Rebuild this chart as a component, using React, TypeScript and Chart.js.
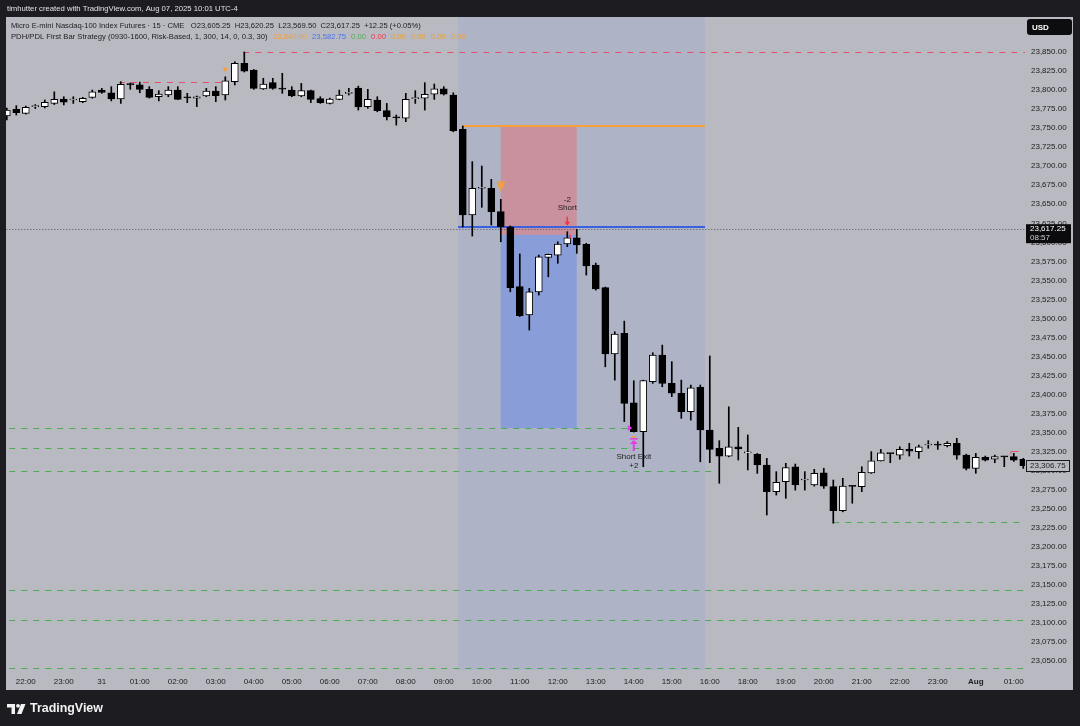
import React, { useEffect, useRef } from "react";
import { Chart, registerables } from "chart.js";

Chart.register(...registerables);

const FONT = "'Liberation Sans', Arial, Helvetica, sans-serif";

// ---------------- data ----------------
const times = [
  "21:30","21:45","22:00","22:15","22:30","22:45","23:00","23:15","23:30","23:45",
  "00:00","00:15","00:30","00:45","01:00","01:15","01:30","01:45","02:00","02:15",
  "02:30","02:45","03:00","03:15","03:30","03:45","04:00","04:15","04:30","04:45",
  "05:00","05:15","05:30","05:45","06:00","06:15","06:30","06:45","07:00","07:15",
  "07:30","07:45","08:00","08:15","08:30","08:45","09:00","09:15","09:30","09:45",
  "10:00","10:15","10:30","10:45","11:00","11:15","11:30","11:45","12:00","12:15",
  "12:30","12:45","13:00","13:15","13:30","13:45","14:00","14:15","14:30","14:45",
  "15:00","15:15","15:30","15:45","16:00","16:15","16:30","16:45","18:00","18:15",
  "18:30","18:45","19:00","19:15","19:30","19:45","20:00","20:15","20:30","20:45",
  "21:00","21:15","21:30","21:45","22:00","22:15","22:30","22:45","23:00","23:15",
  "23:30","23:45","00:00","00:15","00:30","00:45","01:00","01:15"
];

const opens = [
  23766,23774.75,23769.5,23778.25,23778.25,23782.5,23788.25,23787,23784.75,23790.5,
  23800,23796.5,23788.25,23808,23806.75,23801,23791.25,23793.5,23800,23790,
  23789.25,23792.25,23798.75,23793.5,23811,23835.25,23826.25,23801.5,23809.75,23801.5,
  23800,23792.25,23799.25,23788.75,23782.5,23787.75,23795.75,23802.75,23778.25,23787,
  23773,23763.75,23763,23788.75,23789.25,23794.75,23801.5,23793.5,23748.5,23636,
  23671,23671,23640.25,23620.5,23541.75,23504.5,23535,23580.25,23583.25,23597.75,
  23606,23597.5,23570.25,23540.5,23453.25,23480.5,23389.25,23351.25,23417,23452,
  23414.75,23401.75,23377.5,23409.5,23353.5,23329.5,23319.25,23331.5,23323.5,23321.5,
  23307.5,23272.5,23285.5,23305.25,23287.75,23281.25,23297.25,23279,23247.5,23279.75,
  23279,23297.25,23313,23322.75,23320.5,23328,23325,23333.75,23333.75,23332.75,
  23336,23320.5,23303,23317.5,23315,23318.5,23318.5,23315
];

const highs = [
  23776.5,23779.5,23779,23781,23787,23797.75,23791.25,23791.25,23790.5,23800,
  23802.25,23804.5,23811,23809.25,23810.5,23804.5,23799.25,23804.5,23804.5,23795.75,
  23792.25,23802.25,23804.5,23817.5,23837.25,23850,23827,23815.5,23815.5,23822,
  23804.5,23808.75,23800,23791.25,23789.5,23800,23802.25,23805.25,23801,23791.25,
  23782.5,23767.25,23795.75,23799.25,23809.75,23808,23804.5,23796.5,23752.75,23706,
  23700.25,23682.75,23656.5,23621.5,23584.75,23539.5,23583.25,23584.5,23600.75,23614,
  23617,23598.75,23572.75,23541.25,23482.5,23496.5,23418.25,23419,23455,23465,
  23443.25,23419,23412.5,23412.5,23450.75,23339.5,23384,23357,23347,23322.75,
  23316.25,23298.75,23309.75,23308.75,23298.75,23301.75,23303.25,23287.75,23290,23280.5,
  23305.25,23325,23328,23323,23331.5,23336,23333.75,23339.5,23338.25,23338.25,
  23342.5,23321.75,23322.75,23319.25,23320.5,23318.75,23322.75,23316.25
];

const lows = [
  23760.75,23767.25,23768.5,23775.75,23776.5,23781,23780.5,23782.5,23783.5,23789.25,
  23795.75,23785.75,23782.5,23801,23796.5,23789.5,23785.75,23791.25,23787.5,23783.5,
  23778.25,23791.25,23784.75,23787,23806.75,23823.75,23801,23800.75,23801,23795.75,
  23791.25,23791.25,23783.5,23782.5,23781.75,23787.25,23793.5,23773.75,23776,23771.5,
  23760.75,23754,23758.5,23782.5,23773.75,23787.75,23793.5,23745.25,23620.25,23608.25,
  23646,23622.75,23600.75,23535,23502.5,23484.75,23530.75,23554.75,23572.5,23594.25,
  23585.5,23557,23537.25,23436.5,23419,23364.5,23350.75,23305.25,23414.75,23410.25,
  23397.25,23368.75,23366.5,23311.75,23310.5,23283.5,23318.25,23314,23301,23296.5,
  23241.75,23268,23263.75,23274.5,23274.5,23279.75,23276.75,23231,23246,23257.25,
  23272.5,23296.5,23312.75,23310.5,23315,23319.25,23316.25,23329.5,23328,23331.25,
  23315,23301,23296.5,23312.75,23310.5,23305.25,23312.25,23303
];

const closes = [
  23773.75,23770.25,23777.25,23778.5,23784,23787.75,23784.25,23787.25,23789.25,23797.75,
  23797,23788.25,23807.5,23807.25,23801,23790.5,23794.75,23800,23787.75,23789.75,
  23791.25,23798.75,23792.5,23812,23835.25,23825,23802.25,23808,23802.25,23801.25,
  23792.25,23799.25,23787.75,23783.5,23788.25,23793.5,23796,23777.75,23787.75,23773,
  23765,23763.5,23787.75,23789,23794.5,23801.5,23794.5,23746.5,23636,23671,
  23671.25,23640.25,23620.5,23540.5,23503.5,23535,23581,23584.25,23597.75,23606,
  23596.5,23569,23538.75,23453.25,23479.5,23388.5,23351.25,23418.25,23452,23414.75,
  23401.75,23377.5,23409,23353.5,23328,23319.25,23331.5,23328.5,23323.75,23307.5,
  23272.5,23284.75,23304,23281.25,23288,23296.5,23279.75,23247.5,23279.75,23279.5,
  23298,23313,23323.5,23322.5,23328,23325.75,23331.5,23334,23333.5,23336,
  23320.5,23303,23317.5,23314,23318.5,23318.25,23314,23306.75
];

const timeTickIndex = [2,6,10,14,18,22,26,30,34,38,42,46,50,54,58,62,66,70,74,78,82,86,90,94,98,102,106];
const timeTickLabels = [
  "22:00","23:00","31","01:00","02:00","03:00","04:00","05:00","06:00","07:00","08:00","09:00","10:00","11:00",
  "12:00","13:00","14:00","15:00","16:00","18:00","19:00","20:00","21:00","22:00","23:00","Aug","01:00"
];
const priceTicks = [
  23050,23075,23100,23125,23150,23175,23200,23225,23250,23275,23300,23325,23350,23375,23400,23425,23450,
  23475,23500,23525,23550,23575,23600,23625,23650,23675,23700,23725,23750,23775,23800,23825,23850
];

// strategy levels / annotations
const sessionBars = [47.5, 73.5];
const firstBarHigh = 23752.75;
const firstBarLow = 23620.25;
const tradeBars = [52, 60];
const stopPrice = 23752.75;
const entryPrice = 23609.75;
const targetPrice = 23356;
const signalBar = 52;
const earlySignalBar = 23;
const entryBar = 59;
const exitBar = 66;
const quotePrice = 23617.25;
const quoteCountdown = "08:57";
const lastPrice = 23306.75;
const redLevelPrices = [23850, 23811];
const redLevelFrom = [24.9, 11.8];
const redLevelTo = [108, 22.7];
const greenLevelPrices = [23356, 23330, 23299, 23232, 23143, 23104, 23041];
const greenLevelFrom = [-1, -1, -1, 87, -1, -1, -1];
const greenLevelTo = [65.4, 66.6, 74.8, 108, 108, 108, 108];

const headerText = "timhutter created with TradingView.com, Aug 07, 2025 10:01 UTC-4";
const legendLine1 = "Micro E-mini Nasdaq-100 Index Futures · 15 · CME   O23,605.25  H23,620.25  L23,569.50  C23,617.25  +12.25 (+0.05%)";
const legendLine2 = "PDH/PDL First Bar Strategy (0930-1600, Risk-Based, 1, 300, 14, 0, 0.3, 30)";
const legendValues = ["23,840.00", "23,582.75", "0.00", "0.00", "0.00", "0.00", "0.00", "0.00"];
const legendValueColors = ["#f0a040", "#4a73e8", "#4caf50", "#f23645", "#e8a33a", "#e8a33a", "#e8a33a", "#e8a33a"];

// ---------------- style ----------------
const DARK = "#1d1d21";
const BG = "#b9b9c1";
const SESSION = "#aeb3c6";
const RED_BOX = "#c9919d";
const BLUE_BOX = "#899dd8";
const ORANGE = "#f5a03a";
const BLUE_LINE = "#3a62e0";
const RED_DASH = "#e2506c";
const GREEN_DASH = "#4dab58";
const TEXT = "#1c1c1f";

const fmt = (v: number) =>
  v.toLocaleString("en-US", { minimumFractionDigits: 2, maximumFractionDigits: 2 });

function fitText(ctx: CanvasRenderingContext2D, text: string, x: number, y: number, width: number, weight: string, color: string) {
  ctx.font = `${weight} 10px ${FONT}`;
  const w = ctx.measureText(text).width;
  const size = (10 * width) / w;
  ctx.font = `${weight} ${size}px ${FONT}`;
  ctx.fillStyle = color;
  ctx.textAlign = "left";
  ctx.textBaseline = "middle";
  ctx.fillText(text, x, y);
  return size;
}

const overlay = {
  id: "overlay",
  beforeDraw(chart: any) {
    const { ctx, chartArea: a, scales } = chart;
    const x = scales.x, y = scales.y;
    ctx.save();
    ctx.fillStyle = DARK;
    ctx.fillRect(0, 0, chart.width, chart.height);
    ctx.fillStyle = BG;
    ctx.fillRect(6, 17, 1067, 673);
    ctx.beginPath();
    ctx.rect(a.left, a.top, a.right - a.left, a.bottom - a.top);
    ctx.clip();
    const s0 = x.getPixelForValue(sessionBars[0]);
    const s1 = x.getPixelForValue(sessionBars[1]);
    ctx.fillStyle = SESSION;
    ctx.fillRect(s0, a.top, s1 - s0, a.bottom - a.top);
    const b0 = x.getPixelForValue(tradeBars[0]);
    const b1 = x.getPixelForValue(tradeBars[1]);
    const yS = y.getPixelForValue(stopPrice);
    const yE = y.getPixelForValue(entryPrice);
    const yT = y.getPixelForValue(targetPrice);
    ctx.fillStyle = RED_BOX;
    ctx.fillRect(b0, yS, b1 - b0, yE - yS);
    ctx.fillStyle = BLUE_BOX;
    ctx.fillRect(b0, yE, b1 - b0, yT - yE);
    ctx.restore();
  },
  beforeDatasetsDraw(chart: any) {
    const { ctx, chartArea: a, scales } = chart;
    const x = scales.x, y = scales.y;
    ctx.save();
    ctx.beginPath();
    ctx.rect(a.left, a.top, a.right - a.left, a.bottom - a.top);
    ctx.clip();
    const hline = (p: number, f: number, t: number, color: string, w: number, dash: number[]) => {
      const yy = Math.round(y.getPixelForValue(p)) + (w % 2 ? 0.5 : 0);
      ctx.beginPath();
      ctx.setLineDash(dash);
      ctx.strokeStyle = color;
      ctx.lineWidth = w;
      ctx.moveTo(x.getPixelForValue(f), yy);
      ctx.lineTo(x.getPixelForValue(t), yy);
      ctx.stroke();
    };
    greenLevelPrices.forEach((p, i) => hline(p, greenLevelFrom[i], greenLevelTo[i], GREEN_DASH, 1, [6, 6]));
    redLevelPrices.forEach((p, i) => hline(p, redLevelFrom[i], redLevelTo[i], RED_DASH, 1, [6, 6]));
    hline(quotePrice, -1, 108, "#55555c", 1, [1, 2]);
    hline(firstBarHigh, sessionBars[0] + 0.4, sessionBars[1], ORANGE, 2, []);
    hline(firstBarLow, sessionBars[0], sessionBars[1], BLUE_LINE, 2, []);
    ctx.restore();
  },
  afterDraw(chart: any) {
    const { ctx, scales } = chart;
    const x = scales.x, y = scales.y;
    ctx.save();
    ctx.setLineDash([]);

    // --- markers ---
    const tri = (cx: number, top: number, w: number, h: number, color: string) => {
      ctx.beginPath();
      ctx.moveTo(cx - w / 2, top);
      ctx.lineTo(cx + w / 2, top);
      ctx.lineTo(cx, top + h);
      ctx.closePath();
      ctx.fillStyle = color;
      ctx.fill();
    };
    {
      const cx = x.getPixelForValue(earlySignalBar);
      const yh = y.getPixelForValue(highs[earlySignalBar]);
      tri(cx, yh - 9, 5, 5, ORANGE);
    }
    {
      const cx = x.getPixelForValue(signalBar);
      const yh = y.getPixelForValue(highs[signalBar]);
      ctx.fillStyle = ORANGE;
      ctx.fillRect(cx - 4, yh - 18, 8, 1.5);
      tri(cx, yh - 16, 8, 8, ORANGE);
    }
    {
      const cx = x.getPixelForValue(entryBar);
      const yh = y.getPixelForValue(highs[entryBar]);
      ctx.strokeStyle = "#f23645";
      ctx.lineWidth = 1.5;
      ctx.beginPath();
      ctx.moveTo(cx, yh - 15);
      ctx.lineTo(cx, yh - 9);
      ctx.stroke();
      ctx.beginPath();
      ctx.moveTo(cx - 3, yh - 10);
      ctx.lineTo(cx + 3, yh - 10);
      ctx.lineTo(cx, yh - 6);
      ctx.closePath();
      ctx.fillStyle = "#f23645";
      ctx.fill();
      ctx.fillStyle = TEXT;
      ctx.font = `8px ${FONT}`;
      ctx.textAlign = "center";
      ctx.textBaseline = "middle";
      ctx.fillText("-2", cx, yh - 32);
      ctx.fillText("Short", cx, yh - 24);
      ctx.fillStyle = "#f23645";
      ctx.fillRect(cx + 2, yh + 3, 1.5, 4);
    }
    {
      const cx = x.getPixelForValue(exitBar);
      const yl = y.getPixelForValue(lows[exitBar]);
      const yt = y.getPixelForValue(targetPrice);
      ctx.fillStyle = "#e33ee6";
      ctx.beginPath();
      ctx.moveTo(cx - 6, yt - 3);
      ctx.lineTo(cx - 1.5, yt);
      ctx.lineTo(cx - 6, yt + 3);
      ctx.closePath();
      ctx.fill();
      const top = yl + 4;
      ctx.fillStyle = "#f0a040";
      ctx.fillRect(cx - 2, top, 4, 1.5);
      ctx.fillStyle = "#e33ee6";
      ctx.fillRect(cx - 4, top + 2, 8, 1.5);
      ctx.beginPath();
      ctx.moveTo(cx, top + 4);
      ctx.lineTo(cx + 4, top + 8);
      ctx.lineTo(cx - 4, top + 8);
      ctx.closePath();
      ctx.fill();
      ctx.fillRect(cx - 1, top + 8, 2, 7);
      ctx.fillStyle = TEXT;
      ctx.font = `8px ${FONT}`;
      ctx.textAlign = "center";
      ctx.textBaseline = "middle";
      ctx.fillText("Short Exit", cx, yl + 25);
      ctx.fillText("+2", cx, yl + 34);
    }
    {
      const yy = Math.round(y.getPixelForValue(highs[106] + 3)) + 0.5;
      ctx.strokeStyle = "#e2506c";
      ctx.lineWidth = 1;
      ctx.beginPath();
      ctx.moveTo(x.getPixelForValue(105.7), yy + 3);
      ctx.lineTo(x.getPixelForValue(105.7), yy);
      ctx.lineTo(x.getPixelForValue(106.5), yy);
      ctx.stroke();
    }

    // --- price axis labels ---
    {
      const yq = y.getPixelForValue(quotePrice);
      ctx.fillStyle = "#0b0b0d";
      ctx.fillRect(1026, yq - 5, 45, 19);
      ctx.fillStyle = "#ffffff";
      ctx.font = `8px ${FONT}`;
      ctx.textAlign = "left";
      ctx.textBaseline = "middle";
      ctx.fillText(fmt(quotePrice), 1030, yq);
      ctx.fillStyle = "#d0d0d4";
      ctx.fillText(quoteCountdown, 1030, yq + 9);

      const yl = y.getPixelForValue(lastPrice);
      ctx.fillStyle = BG;
      ctx.fillRect(1026, yl - 5.5, 43, 11);
      ctx.strokeStyle = "#1a1a1a";
      ctx.lineWidth = 1;
      ctx.strokeRect(1026.5, Math.round(yl - 5.5) + 0.5, 43, 11);
      ctx.fillStyle = TEXT;
      ctx.fillText(fmt(lastPrice), 1030, yl + 0.5);
    }
    {
      ctx.fillStyle = "#0d0d0f";
      ctx.beginPath();
      (ctx as any).roundRect(1027, 19, 45, 16, 3);
      ctx.fill();
      ctx.fillStyle = "#ffffff";
      ctx.font = `bold 8px ${FONT}`;
      ctx.textAlign = "left";
      ctx.textBaseline = "middle";
      ctx.fillText("USD", 1032, 27.5);
    }

    // --- header / legend ---
    fitText(ctx, headerText, 7, 9, 231, "normal", "#e2e2e6");
    fitText(ctx, legendLine1, 11, 26, 410, "normal", TEXT);
    const size2 = fitText(ctx, legendLine2, 11, 37, 257, "normal", TEXT);
    ctx.font = `normal ${size2}px ${FONT}`;
    let vx = 273;
    legendValues.forEach((t, i) => {
      ctx.fillStyle = legendValueColors[i];
      ctx.fillText(t, vx, 37);
      vx += ctx.measureText(t).width + 5;
    });

    // --- footer logo ---
    ctx.fillStyle = "#f2f2f4";
    ctx.fillRect(7, 704, 8, 3.5);
    ctx.fillRect(11.5, 704, 3.5, 10);
    ctx.beginPath();
    ctx.arc(18, 705.8, 1.9, 0, Math.PI * 2);
    ctx.fill();
    ctx.beginPath();
    ctx.moveTo(21, 704);
    ctx.lineTo(25.5, 704);
    ctx.lineTo(21.5, 714);
    ctx.lineTo(17, 714);
    ctx.closePath();
    ctx.fill();
    fitText(ctx, "TradingView", 30, 709, 73, "bold", "#f2f2f4");
    ctx.restore();
  },
};

export default function App() {
  const ref = useRef<HTMLCanvasElement | null>(null);
  useEffect(() => {
    document.body.style.margin = "0";
    document.body.style.background = DARK;
    const canvas = ref.current;
    if (!canvas) return;
    const idx = times.map((_, i) => i);
    const up = idx.map((i) => closes[i] >= opens[i]);
    const chart = new Chart(canvas, {
      type: "bar",
      data: {
        datasets: [
          {
            label: "body",
            data: idx.map((i) => ({ x: i, y: [opens[i], closes[i]] })) as any,
            stack: "ohlc",
            order: 0,
            barThickness: 7,
            minBarLength: 1,
            backgroundColor: up.map((u) => (u ? "#ffffff" : "#000000")),
            borderColor: "#000000",
            borderWidth: 1,
            borderSkipped: false,
          } as any,
          {
            label: "wick",
            data: idx.map((i) => ({ x: i, y: [lows[i], highs[i]] })) as any,
            stack: "ohlc",
            order: 1,
            barThickness: 1,
            backgroundColor: "#000000",
            borderWidth: 0,
          } as any,
        ],
      },
      options: {
        responsive: false,
        animation: false,
        devicePixelRatio: 1,
        events: [],
        layout: { padding: { left: 6, top: 17, right: 7, bottom: 36 } },
        plugins: { legend: { display: false }, tooltip: { enabled: false } },
        scales: {
          x: {
            type: "linear",
            min: -0.084,
            max: 107.18,
            offset: false,
            bounds: "data",
            grid: { display: false, drawTicks: false, tickLength: 0 },
            border: { display: false },
            afterBuildTicks: (s: any) => {
              s.ticks = timeTickIndex.map((v) => ({ value: v }));
            },
            afterFit: (s: any) => {
              s.height = 20;
            },
            ticks: {
              autoSkip: false,
              maxRotation: 0,
              minRotation: 0,
              padding: 7,
              color: "#202024",
              font: (c: any) => ({
                family: FONT,
                size: 8,
                weight: timeTickLabels[c.index] === "Aug" ? "bold" : "normal",
              }),
              callback: (_v: any, i: number) => timeTickLabels[i],
            },
          } as any,
          y: {
            type: "linear",
            position: "right",
            min: 23038.2,
            max: 23896,
            stacked: false,
            bounds: "data",
            grid: { display: false, drawTicks: false, tickLength: 0 },
            border: { display: false },
            afterBuildTicks: (s: any) => {
              s.ticks = priceTicks.map((v) => ({ value: v }));
            },
            afterFit: (s: any) => {
              s.width = 48;
            },
            ticks: {
              padding: 6,
              color: "#202024",
              font: { family: FONT, size: 8 },
              callback: (v: any) => fmt(Number(v)),
            },
          } as any,
        },
      } as any,
      plugins: [overlay as any],
    });
    return () => chart.destroy();
  }, []);
  return (
    <div style={{ position: "absolute", left: 0, top: 0, width: 1080, height: 726, background: DARK }}>
      <canvas ref={ref} width={1080} height={726} style={{ display: "block" }} />
    </div>
  );
}
